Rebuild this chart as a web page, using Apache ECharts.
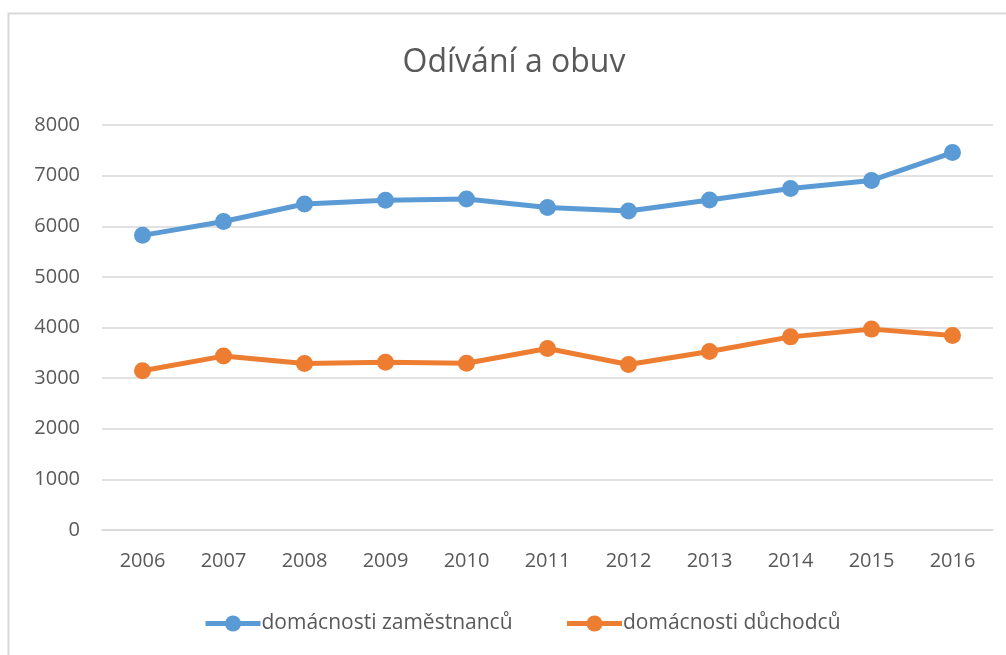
<!DOCTYPE html>
<html>
<head>
<meta charset="utf-8">
<script src="https://cdn.jsdelivr.net/npm/echarts@6/dist/echarts.min.js"></script>
<style>html,body{margin:0;padding:0;background:#fff}#c{width:1006px;height:655px}</style>
</head>
<body>
<div id="c"></div>
<script>
const titleText = 'Odívání a obuv';
const years = ['2006','2007','2008','2009','2010','2011','2012','2013','2014','2015','2016'];
const seriesNames = ['domácnosti zaměstnanců', 'domácnosti důchodců'];
const employees = [5820, 6095, 6440, 6515, 6540, 6370, 6300, 6520, 6745, 6905, 7455];
const pensioners = [3145, 3435, 3290, 3315, 3295, 3585, 3270, 3525, 3815, 3968, 3843];
const yMin = 0, yMax = 8000, yStep = 1000;

const font = '"Open Sans", sans-serif';
const txt = '#595959';
const chart = echarts.init(document.getElementById('c'));
chart.setOption({
  animation: false,
  backgroundColor: '#fff',
  graphic: [{
    type: 'rect', shape: {x: 8.5, y: 13.5, width: 1200, height: 800},
    style: {fill: 'none', stroke: '#d9d9d9', lineWidth: 2}, silent: true
  }],
  title: {
    text: titleText, top: 42, left: 509, textAlign: 'center',
    textStyle: {fontFamily: font, fontSize: 32, fontWeight: 'normal', color: txt}
  },
  legend: {
    data: seriesNames, bottom: 16, left: 198, itemWidth: 55, itemHeight: 20, itemGap: 52,
    lineStyle: {width: 5},
    textStyle: {fontFamily: font, fontSize: 21, color: txt, padding: [0,0,0,-4]}
  },
  grid: {left: 102, right: 13, top: 125, bottom: 125, containLabel: false},
  xAxis: {
    type: 'category', data: years, boundaryGap: true,
    axisLine: {lineStyle: {color: '#d9d9d9', width: 1.5}},
    axisTick: {show: false},
    axisLabel: {fontFamily: font, fontSize: 20, color: txt, margin: 21}
  },
  yAxis: {
    type: 'value', min: yMin, max: yMax, interval: yStep,
    axisLine: {show: false}, axisTick: {show: false},
    splitLine: {lineStyle: {color: '#d9d9d9', width: 1.5}},
    axisLabel: {fontFamily: font, fontSize: 20, color: txt, margin: 22, formatter: v => String(v)}
  },
  series: [
    {name: seriesNames[0], type: 'line', data: employees, symbol: 'circle', symbolSize: 17,
     lineStyle: {width: 5, color: '#5B9BD5'}, itemStyle: {color: '#5B9BD5'}},
    {name: seriesNames[1], type: 'line', data: pensioners, symbol: 'circle', symbolSize: 17,
     lineStyle: {width: 5, color: '#ED7D31'}, itemStyle: {color: '#ED7D31'}}
  ]
});
</script>
</body>
</html>
